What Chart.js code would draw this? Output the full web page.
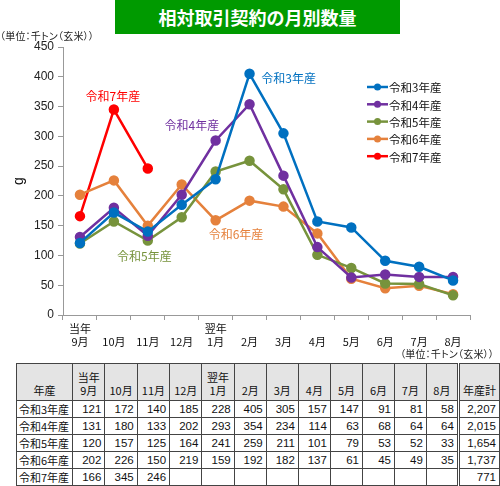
<!DOCTYPE html>
<html><head><meta charset="utf-8">
<script src="https://cdn.jsdelivr.net/npm/chart.js@4.4.1/dist/chart.umd.min.js"></script>
<style>
body{margin:0;background:#fff;font-family:"Liberation Sans","Noto Sans CJK JP",sans-serif;}
#wrap{position:relative;width:500px;height:486px;overflow:hidden;}
#title{position:absolute;left:115px;top:0;width:285px;height:34px;background:#009a00;color:#fff;font-weight:bold;font-size:18px;line-height:34px;text-align:center;z-index:2;font-family:"Noto Sans CJK JP",sans-serif;}
.unit{position:absolute;font-size:10px;font-feature-settings:"palt";letter-spacing:0.2px;color:#222;z-index:2;white-space:nowrap;line-height:12px;font-family:"Noto Sans CJK JP",sans-serif;}
canvas{position:absolute;left:0;top:0;}
table{position:absolute;left:16px;top:363px;border-collapse:collapse;table-layout:fixed;font-size:11.5px;color:#111;}
td,th{border:1px solid #444;padding:0 3px;height:16px;line-height:15px;white-space:nowrap;overflow:hidden;}
th{background:#e4e4e4;font-weight:normal;vertical-align:bottom;text-align:center;height:33px;line-height:13px;padding-bottom:3px;font-family:"Noto Sans CJK JP",sans-serif;font-size:11px;}
td{text-align:right;}
td.lab{text-align:left;font-family:"Noto Sans CJK JP",sans-serif;font-size:11px;padding-left:2px;}
.tot{border-left:3px double #444;}
</style></head>
<body><div id="wrap">
<div id="title">相対取引契約の月別数量</div>
<div class="unit" style="left:0;top:30px;">（単位：千トン（玄米））</div>
<div class="unit" style="right:6px;top:348px;">（単位：千トン（玄米））</div>
<canvas id="c" width="500" height="350"></canvas>
<table id="tbl"></table>
</div>
<script>
const monthLabels = [["当年","9月"],["","10月"],["","11月"],["","12月"],["翌年","1月"],["","2月"],["","3月"],["","4月"],["","5月"],["","6月"],["","7月"],["","8月"]];
const headerLabels = [["当年","9月"],["10月"],["11月"],["12月"],["翌年","1月"],["2月"],["3月"],["4月"],["5月"],["6月"],["7月"],["8月"]];
const seriesNames = ["令和3年産","令和4年産","令和5年産","令和6年産","令和7年産"];
const r3 = [121,172,140,185,228,405,305,157,147,91,81,58];
const r4 = [131,180,133,202,293,354,234,114,63,68,64,64];
const r5 = [120,157,125,164,241,259,211,101,79,53,52,33];
const r6 = [202,226,150,219,159,192,182,137,61,45,49,35];
const r7 = [166,345,246,null,null,null,null,null,null,null,null,null];
const totals = ["2,207","2,015","1,654","1,737","771"];
const yTicks = [0,50,100,150,200,250,300,350,400,450];

const colors = ["#0070c0","#7030a0","#77933c","#e5813c","#ff0000"];
const allSeries = [r3,r4,r5,r6,r7];

// table
(function(){
  const t = document.getElementById('tbl');
  let h = '<colgroup><col style="width:54px">';
  for(let i=0;i<12;i++) h += '<col style="width:32.5px">';
  h += '<col style="width:36px"></colgroup>';
  h += '<tr><th>年産</th>';
  headerLabels.forEach(l=>{ h += '<th>'+l.join('<br>')+'</th>'; });
  h += '<th class="tot">年産計</th></tr>';
  seriesNames.forEach((n,si)=>{
    h += '<tr><td class="lab">'+n+'</td>';
    allSeries[si].forEach(v=>{ h += '<td>'+(v==null?'':v)+'</td>'; });
    h += '<td class="tot">'+totals[si]+'</td></tr>';
  });
  t.innerHTML = h;
})();

const FONT = '"Liberation Sans","Noto Sans CJK JP",sans-serif';
const JFONT = '"Noto Sans CJK JP",sans-serif';

const legendPlugin = {
  id:'customLegend',
  afterDraw(chart){
    const ctx = chart.ctx;
    ctx.save();
    chart.data.datasets.forEach((ds,i)=>{
      const y = 87 + i*17.3;
      ctx.strokeStyle = ds.borderColor; ctx.lineWidth = 2.5;
      ctx.beginPath(); ctx.moveTo(367,y); ctx.lineTo(388,y); ctx.stroke();
      ctx.fillStyle = ds.borderColor;
      ctx.beginPath(); ctx.arc(377.5,y,3.5,0,Math.PI*2); ctx.fill();
      ctx.fillStyle = '#111'; ctx.font = '11.5px '+JFONT;
      ctx.textBaseline = 'middle'; ctx.textAlign='left';
      ctx.fillText(ds.label, 389, y+1);
    });
    ctx.restore();
  }
};

const annoPlugin = {
  id:'seriesLabels',
  afterDatasetsDraw(chart){
    const ann = [
      {i:0, x:6.15, v:398},
      {i:4, x:0.97, v:367},
      {i:1, x:3.3, v:318},
      {i:3, x:4.6, v:136},
      {i:2, x:1.9, v:99}
    ];
    const xs = chart.scales.x, ys = chart.scales.y, ctx = chart.ctx;
    ctx.save();
    ctx.font = '12px '+JFONT; ctx.textAlign='center'; ctx.textBaseline='middle';
    ann.forEach(a=>{
      const x0 = xs.getPixelForValue(Math.floor(a.x)), x1 = xs.getPixelForValue(Math.floor(a.x)+1);
      const px = x0 + (x1-x0)*(a.x-Math.floor(a.x));
      ctx.fillStyle = colors[a.i];
      ctx.fillText(seriesNames[a.i], px, ys.getPixelForValue(a.v));
    });
    ctx.restore();
  }
};

new Chart(document.getElementById('c'), {
  type:'line',
  data:{
    labels: monthLabels,
    datasets: seriesNames.map((n,i)=>({
      label:n, data:allSeries[i], borderColor:colors[i], backgroundColor:colors[i],
      pointBackgroundColor:colors[i], pointBorderColor:colors[i],
      borderWidth:2.5, pointRadius:4, tension:0, spanGaps:false
    }))
  },
  options:{
    responsive:false, animation:false, devicePixelRatio:1,
    layout:{padding:{left:11,right:30,top:47,bottom:0}},
    plugins:{legend:{display:false}, tooltip:{enabled:false}},
    scales:{
      x:{
        offset:true,
        grid:{display:true, drawOnChartArea:false, drawTicks:true, tickLength:5, color:'#999', offset:true},
        border:{color:'#999'},
        ticks:{font:{size:11, family:JFONT}, color:'#111', padding:2, maxRotation:0, autoSkip:false},
        afterFit(s){ s.height = 35; }
      },
      y:{
        min:0, max:450,
        afterBuildTicks(s){ s.ticks = yTicks.map(v=>({value:v})); },
        grid:{display:true, drawOnChartArea:false, drawTicks:true, tickLength:5, color:'#999'},
        border:{color:'#999'},
        ticks:{font:{size:12, family:FONT}, color:'#222', padding:4},
        title:{display:true, text:'g', font:{size:14, family:FONT}, color:'#111', padding:{top:0,bottom:0}},
        afterFit(s){ s.width = 52; }
      }
    }
  },
  plugins:[legendPlugin, annoPlugin]
});
</script>
</body></html>
